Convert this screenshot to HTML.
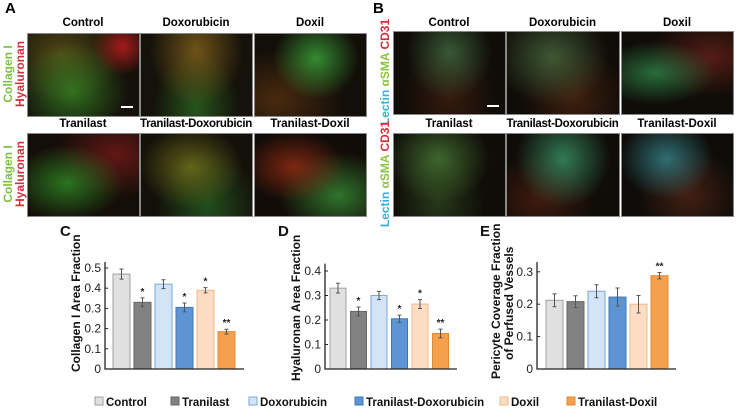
<!DOCTYPE html>
<html><head><meta charset="utf-8"><style>
body{margin:0;background:#fff;font-family:"Liberation Sans",sans-serif;}
#root{position:relative;width:736px;height:410px;overflow:hidden;background:#fff;}
.pl{position:absolute;font-weight:bold;font-size:15px;}
.im{position:absolute;border:1px solid #888;background:#1a1208;}
.cap{position:absolute;font-weight:bold;font-size:11.5px;text-align:center;white-space:nowrap;}
svg{position:absolute;left:0;top:0;}
</style></head><body>
<div id="root">
<div class="pl" style="left:5px;top:0px">A</div>
<div class="pl" style="left:373px;top:0px">B</div>

<div class="cap" style="left:27px;top:17px;width:112px">Control</div>
<div class="cap" style="left:140px;top:17px;width:112px">Doxorubicin</div>
<div class="cap" style="left:254px;top:17px;width:112px">Doxil</div>
<div class="cap" style="left:27px;top:118px;width:112px">Tranilast</div>
<div class="cap" style="left:136px;top:118px;width:120px;letter-spacing:-0.3px">Tranilast-Doxorubicin</div>
<div class="cap" style="left:254px;top:118px;width:112px">Tranilast-Doxil</div>

<div class="cap" style="left:393px;top:17px;width:112px">Control</div>
<div class="cap" style="left:506px;top:17px;width:113px">Doxorubicin</div>
<div class="cap" style="left:621px;top:17px;width:112px">Doxil</div>
<div class="cap" style="left:393px;top:118px;width:112px">Tranilast</div>
<div class="cap" style="left:502px;top:118px;width:121px;letter-spacing:-0.3px">Tranilast-Doxorubicin</div>
<div class="cap" style="left:621px;top:118px;width:112px">Tranilast-Doxil</div>

<div class="im" style="left:27px;top:33px;width:111px;height:82px;background:radial-gradient(circle at 85% 15%,rgba(200,30,30,.8),transparent 25%),radial-gradient(ellipse at 40% 70%,rgba(60,150,40,.7),transparent 60%),radial-gradient(ellipse at 30% 25%,rgba(120,110,30,.6),transparent 55%),#14100a"></div>
<div class="im" style="left:140px;top:33px;width:111px;height:82px;background:radial-gradient(ellipse at 50% 20%,rgba(150,110,30,.7),transparent 60%),radial-gradient(ellipse at 50% 90%,rgba(50,130,40,.6),transparent 55%),#14120a"></div>
<div class="im" style="left:254px;top:33px;width:111px;height:82px;background:radial-gradient(ellipse at 55% 30%,rgba(60,170,60,.8),transparent 50%),radial-gradient(ellipse at 20% 80%,rgba(110,60,20,.6),transparent 55%),#120e08"></div>
<div class="im" style="left:27px;top:133px;width:111px;height:82px;background:radial-gradient(ellipse at 35% 60%,rgba(50,150,40,.75),transparent 55%),radial-gradient(ellipse at 80% 25%,rgba(150,30,30,.6),transparent 50%),#140e08"></div>
<div class="im" style="left:140px;top:133px;width:111px;height:82px;background:radial-gradient(ellipse at 45% 40%,rgba(130,130,30,.7),transparent 60%),radial-gradient(ellipse at 60% 90%,rgba(40,120,40,.6),transparent 55%),#14100a"></div>
<div class="im" style="left:254px;top:133px;width:111px;height:82px;background:radial-gradient(ellipse at 35% 40%,rgba(170,50,20,.7),transparent 50%),radial-gradient(ellipse at 75% 75%,rgba(60,160,60,.7),transparent 50%),#120c08"></div>

<div class="im" style="left:393px;top:31px;width:111px;height:82px;background:radial-gradient(ellipse at 50% 25%,rgba(70,120,70,.7),transparent 55%),radial-gradient(ellipse at 50% 80%,rgba(90,40,20,.5),transparent 60%),#100c08"></div>
<div class="im" style="left:506px;top:31px;width:112px;height:82px;background:radial-gradient(ellipse at 40% 30%,rgba(80,120,70,.7),transparent 60%),radial-gradient(ellipse at 60% 80%,rgba(110,50,20,.5),transparent 55%),#100c08"></div>
<div class="im" style="left:621px;top:31px;width:111px;height:82px;background:radial-gradient(ellipse at 30% 50%,rgba(50,150,80,.7),transparent 55%),radial-gradient(ellipse at 80% 30%,rgba(130,40,30,.6),transparent 50%),#100c08"></div>
<div class="im" style="left:393px;top:133px;width:111px;height:82px;background:radial-gradient(ellipse at 40% 30%,rgba(80,140,60,.7),transparent 55%),radial-gradient(ellipse at 40% 85%,rgba(60,100,40,.5),transparent 50%),#100c08"></div>
<div class="im" style="left:506px;top:133px;width:112px;height:82px;background:radial-gradient(ellipse at 50% 30%,rgba(60,160,110,.75),transparent 60%),radial-gradient(ellipse at 30% 80%,rgba(110,40,20,.5),transparent 50%),#100c08"></div>
<div class="im" style="left:621px;top:133px;width:111px;height:82px;background:radial-gradient(ellipse at 40% 30%,rgba(60,150,160,.7),transparent 50%),radial-gradient(ellipse at 60% 75%,rgba(120,50,30,.5),transparent 55%),#0e0c08"></div>
<div style="position:absolute;left:121px;top:106px;width:12px;height:2px;background:#fff"></div>
<div style="position:absolute;left:487px;top:105px;width:12px;height:2px;background:#fff"></div>

<svg id="charts" width="736" height="410"></svg>
</div>
<script>
const categories=["Control","Tranilast","Doxorubicin","Tranilast-Doxorubicin","Doxil","Tranilast-Doxil"];
const collagenValues=[0.47,0.33,0.42,0.305,0.39,0.185];
const collagenErrors=[0.025,0.022,0.022,0.022,0.013,0.012];
const collagenStars=["","*","","*","*","**"];
const collagenTicks=[0,0.1,0.2,0.3,0.4,0.5];
const hyaluronanValues=[0.33,0.235,0.30,0.205,0.265,0.145];
const hyaluronanErrors=[0.02,0.018,0.017,0.015,0.018,0.018];
const hyaluronanStars=["","*","","*","*","**"];
const hyaluronanTicks=[0,0.1,0.2,0.3,0.4];
const pericyteValues=[0.212,0.208,0.24,0.222,0.20,0.288];
const pericyteErrors=[0.02,0.018,0.02,0.028,0.027,0.01];
const pericyteStars=["","","","","","**"];
const pericyteTicks=[0,0.1,0.2,0.3];

const fills=["#e0e0e0","#828282","#d2e4f6","#5d95d4","#fcdcc2","#f5a04c"];
const strokes=["#a0a0a0","#666","#7aa8d8","#4176b5","#f0b888","#e08a34"];
const NS="http://www.w3.org/2000/svg";
const svg=document.getElementById("charts");
function mk(tag,attrs,parent){const e=document.createElementNS(NS,tag);for(const k in attrs)e.setAttribute(k,attrs[k]);(parent||svg).appendChild(e);return e;}
function chart(key,cfg,vals,errs,stars,ticks){
  const g=mk("g",{});
  
  
  const y=v=>cfg.y0-v*cfg.scale;
  const x=i=>cfg.x0+cfg.first+i*cfg.pitch;
  ticks.forEach(t=>{
    const tx=mk("text",{x:cfg.x0-4,y:y(t)+4,"text-anchor":"end","font-size":"12","font-family":"Liberation Sans, sans-serif",fill:"#222"},g);
    tx.textContent=String(t);
    
    
    const tk=mk("line",{x1:cfg.x0,x2:cfg.x0+3,y1:y(t),y2:y(t),stroke:"#222","stroke-width":"1"},g);
    
    
  });
  vals.forEach((v,i)=>{
    const r=mk("rect",{x:x(i),y:y(v),width:cfg.bw,height:cfg.y0-y(v),fill:fills[i],stroke:strokes[i],"stroke-width":"1"},g);
    
    
    const cx=x(i)+cfg.bw/2;
    const e=mk("path",{d:`M${cx},${y(v+errs[i])}V${y(v-errs[i])}M${cx-2},${y(v+errs[i])}h4M${cx-2},${y(v-errs[i])}h4`,stroke:"#555","stroke-width":"1",fill:"none"},g);
    
    
    if(stars[i]){
      const s=mk("text",{x:cx,y:y(v+errs[i])-3,"text-anchor":"middle","font-size":"10","font-weight":"bold","font-family":"Liberation Sans, sans-serif",fill:"#222"},g);
      s.textContent=stars[i];
      
      
    }
  });
  const ax=mk("path",{d:`M${cfg.x0},${y(cfg.top)}V${cfg.y0}H${cfg.xEnd}`,stroke:"#222","stroke-width":"1.3",fill:"none"},g);
  
  
}
chart("collagen",{x0:105,y0:369,scale:202,first:8,pitch:21,bw:17,xEnd:244,top:0.53},collagenValues,collagenErrors,collagenStars,collagenTicks);
chart("hyaluronan",{x0:325,y0:369,scale:245,first:5,pitch:20.5,bw:16,xEnd:457,top:0.43},hyaluronanValues,hyaluronanErrors,hyaluronanStars,hyaluronanTicks);
chart("pericyte",{x0:537,y0:369,scale:324,first:9,pitch:21,bw:17,xEnd:676,top:0.33},pericyteValues,pericyteErrors,pericyteStars,pericyteTicks);

function txt(s,a,name){const t=mk("text",Object.assign({"font-family":"Liberation Sans, sans-serif",fill:"#111"},a));t.textContent=s;return t;}
txt("C",{x:60,y:236,"font-size":"15","font-weight":"bold"},"panel-c-label");
txt("D",{x:278,y:236,"font-size":"15","font-weight":"bold"},"panel-d-label");
txt("E",{x:480,y:236,"font-size":"15","font-weight":"bold"},"panel-e-label");
txt("Collagen I Area Fraction",{x:0,y:0,"font-size":"12","font-weight":"bold",transform:"translate(80,372) rotate(-90)"},"collagen-y-axis-title");
txt("Hyaluronan Area Fraction",{x:0,y:0,"font-size":"12","font-weight":"bold",transform:"translate(300,381) rotate(-90)"},"hyaluronan-y-axis-title");
txt("Pericyte Coverage Fraction",{x:0,y:0,"font-size":"12","font-weight":"bold",transform:"translate(500,379) rotate(-90)"},"pericyte-y-axis-title-1");
txt("of Perfused Vessels",{x:0,y:0,"font-size":"12","font-weight":"bold",transform:"translate(513,360) rotate(-90)"},"pericyte-y-axis-title-2");

// stain labels (vertical)
function vlab(parts,cx,cy,name){
  const t=mk("text",{"font-family":"Liberation Sans, sans-serif","font-size":"12","font-weight":"bold","text-anchor":"middle",transform:`translate(${cx},${cy}) rotate(-90)`});
  parts.forEach(p=>{const s=mk("tspan",{fill:p[1]},t);s.textContent=p[0];});
  
  
}
vlab([["Collagen I","#7cc242"]],12,74,"stain-label-a1-collagen");
vlab([["Hyaluronan","#d0303a"]],24,74,"stain-label-a1-hyaluronan");
vlab([["Collagen I","#7cc242"]],12,174,"stain-label-a2-collagen");
vlab([["Hyaluronan","#d0303a"]],24,174,"stain-label-a2-hyaluronan");
vlab([["Lectin ","#3ab0d8"],["αSMA ","#8cc63f"],["CD31","#d0303a"]],389,72,"stain-label-b1");
vlab([["Lectin ","#3ab0d8"],["αSMA ","#8cc63f"],["CD31","#d0303a"]],389,174,"stain-label-b2");

const legendX=[95,171,249,355,500,567];
categories.forEach((c,i)=>{
  const r=mk("rect",{x:legendX[i],y:397,width:8,height:8,fill:fills[i],stroke:strokes[i]});
  
  
  txt(c,{x:legendX[i]+11,y:406,"font-size":"11.5","font-weight":"bold"},'legend-entry-'+c.toLowerCase());
});
</script>
</body></html>
